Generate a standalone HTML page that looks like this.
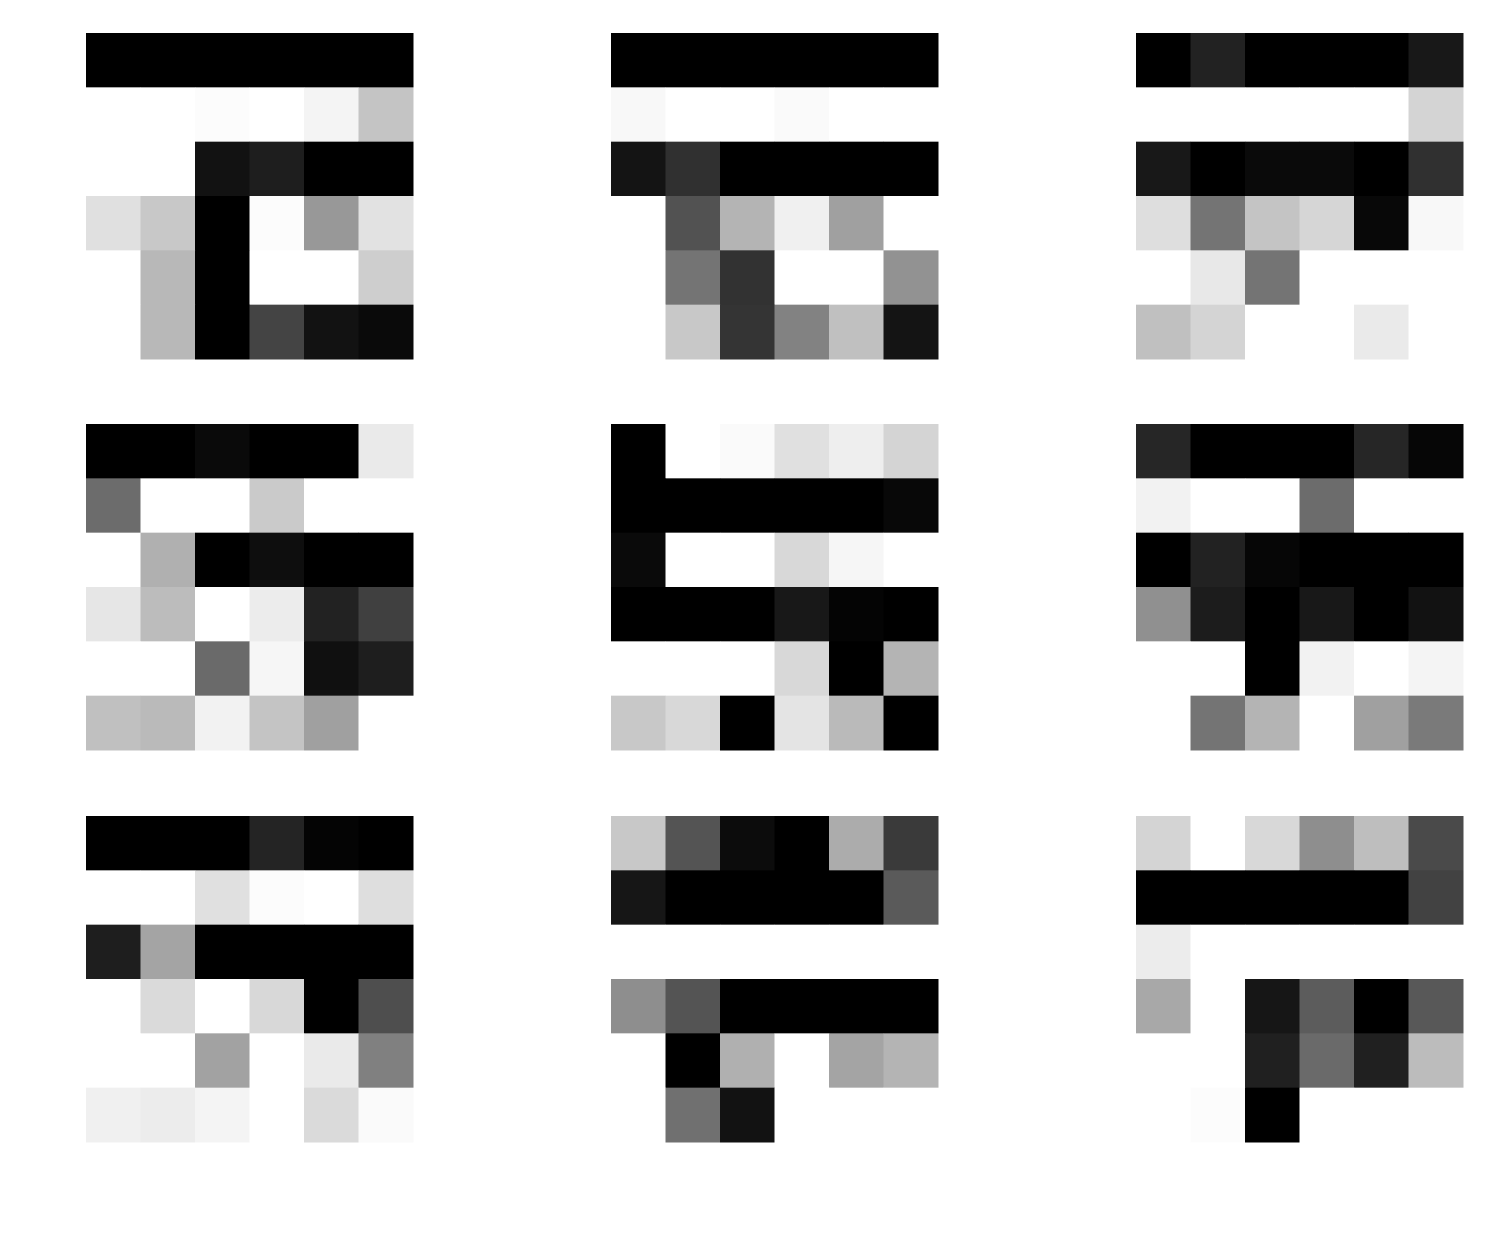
<!DOCTYPE html>
<html>
<head>
<meta charset="utf-8">
<style>
  html, body { margin: 0; padding: 0; background: #fff; }
  svg { display: block; }
</style>
</head>
<body>
<svg id="chart" width="1495" height="1243" xmlns="http://www.w3.org/2000/svg"></svg>
<script>
// Gray intensity per cell (0 = black, 255 = white), 9 panels of 6x6
const panel1 = [[0,0,0,0,0,0],[255,255,252,255,244,196],[255,255,18,30,0,0],[224,200,0,252,152,226],[255,184,0,255,255,206],[255,184,0,68,18,10]];
const panel2 = [[0,0,0,0,0,0],[248,255,255,250,255,255],[20,48,0,0,0,0],[255,82,180,240,160,255],[255,116,50,255,255,146],[255,200,52,130,192,20]];
const panel3 = [[0,34,0,0,0,24],[255,255,255,255,255,212],[24,0,10,10,0,48],[222,116,196,214,8,248],[255,232,116,255,255,255],[192,212,255,255,234,255]];
const panel4 = [[0,0,10,0,0,234],[108,255,255,202,255,255],[255,176,0,14,0,0],[230,188,255,236,34,64],[255,255,106,246,16,30],[192,186,242,196,160,255]];
const panel5 = [[0,255,250,224,238,212],[0,0,0,0,0,8],[10,255,255,216,246,255],[0,0,0,24,4,0],[255,255,255,216,0,180],[200,216,0,228,186,0]];
const panel6 = [[38,0,0,0,38,6],[242,255,255,108,255,255],[0,34,6,0,0,0],[144,28,0,24,0,18],[255,255,0,242,255,244],[255,116,180,255,160,122]];
const panel7 = [[0,0,0,36,4,0],[255,255,224,252,255,222],[30,164,0,0,0,0],[255,218,255,216,0,78],[255,255,162,255,234,128],[240,236,244,255,218,250]];
const panel8 = [[200,84,12,0,172,58],[22,0,0,0,0,90],[255,255,255,255,255,255],[142,84,0,0,0,0],[255,0,176,255,164,180],[255,112,18,255,255,255]];
const panel9 = [[212,255,216,142,190,74],[0,0,0,0,0,66],[236,255,255,255,255,255],[168,255,22,92,0,88],[255,255,32,106,32,188],[255,252,0,255,255,255]];
const panels = [panel1,panel2,panel3,panel4,panel5,panel6,panel7,panel8,panel9];

const svg = document.getElementById('chart');
const NS = 'http://www.w3.org/2000/svg';
const colX = [86, 611, 1136];
const rowY = [33, 424, 816];
const panelW = 327, panelH = 326;

panels.forEach((grid, p) => {
  const g = document.createElementNS(NS, 'g');
  
  
  const ox = colX[p % 3], oy = rowY[Math.floor(p / 3)];
  const nr = grid.length, nc = grid[0].length;
  const cw = panelW / nc, ch = panelH / nr;
  const xScale = c => ox + c * cw;
  const yScale = r => oy + r * ch;
  grid.forEach((row, r) => {
    row.forEach((v, c) => {
      const rect = document.createElementNS(NS, 'rect');
      rect.setAttribute('x', xScale(c));
      rect.setAttribute('y', yScale(r));
      rect.setAttribute('width', cw + 0.5);
      rect.setAttribute('height', ch + 0.5);
      const val = Math.max(0, Math.min(255, Math.round(v)));
      rect.setAttribute('fill', 'rgb(' + val + ',' + val + ',' + val + ')');
      
      
      g.appendChild(rect);
    });
  });
  svg.appendChild(g);
});
</script>
</body>
</html>
